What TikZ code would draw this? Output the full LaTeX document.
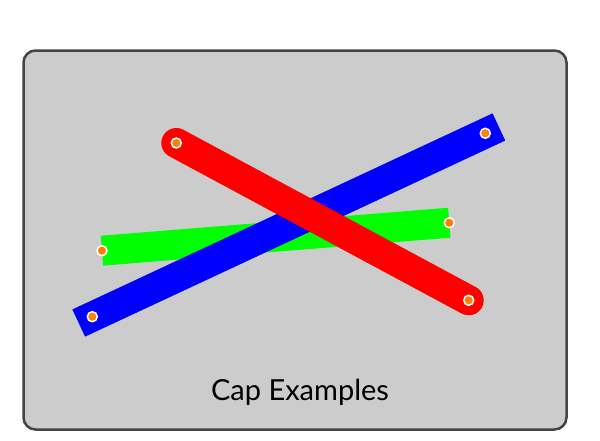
\documentclass[tikz,border=0pt]{standalone}
\usepackage{fontspec}
\setmainfont{Lato}
\definecolor{bordercol}{HTML}{444444}
\definecolor{panel}{HTML}{CCCCCC}
\definecolor{dotcol}{HTML}{FF8000}
\begin{document}
\begin{tikzpicture}[x=1pt,y=-1pt,
  capline/.style={line width=30pt},
  enddot/.style={circle,fill=dotcol,draw=white,line width=1.5pt,minimum size=10pt,inner sep=0pt},
  panelbox/.style={draw=bordercol,fill=panel,line width=2.5pt,rounded corners=12pt}]
\useasboundingbox (0,0) rectangle (600,440);
\draw[panelbox] (23.5,50.5) rectangle (566.5,429.5);
\coordinate (g1) at (102,250.7);
\coordinate (g2) at (449.3,222.7);
\coordinate (b1) at (92.3,316.7);
\coordinate (b2) at (485.3,133.3);
\coordinate (r1) at (176.3,143);
\coordinate (r2) at (468.7,300.3);
\draw[capline,color=green,line cap=butt] (g1) -- (g2);
\draw[capline,color=blue,line cap=rect] (b1) -- (b2);
\draw[capline,color=red,line cap=round] (r1) -- (r2);
\foreach \p in {g1,g2,b1,b2,r1,r2} \node[enddot] (d\p) at (\p) {};
\node[anchor=base,font=\fontsize{29}{34}\selectfont] (title) at (300,400) {Cap Examples};
\end{tikzpicture}
\end{document}
